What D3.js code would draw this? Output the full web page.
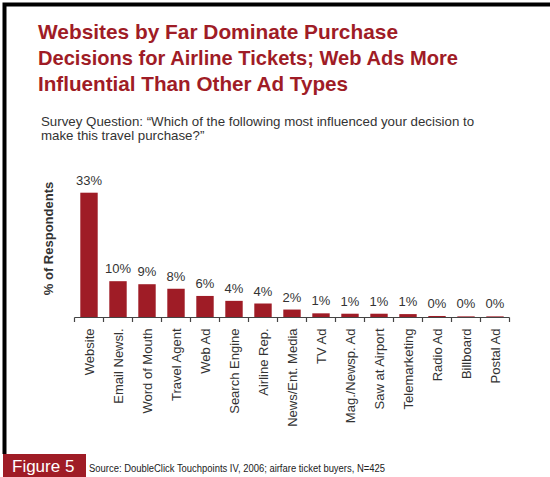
<!DOCTYPE html>
<html>
<head>
<meta charset="utf-8">
<script src="https://cdn.jsdelivr.net/npm/d3@7"></script>
<style>
  html, body { margin: 0; padding: 0; background: #fff; }
  svg { display: block; font-family: Arial, "Liberation Sans", Helvetica, sans-serif; }
</style>
</head>
<body>
<svg id="chart" width="550" height="477"></svg>
<script>
// Survey responses: what most influenced the airline-ticket purchase
const categories = [
  "Website", "Email Newsl.", "Word of Mouth", "Travel Agent", "Web Ad",
  "Search Engine", "Airline Rep.", "News/Ent. Media", "TV Ad", "Mag./Newsp. Ad",
  "Saw at Airport", "Telemarketing", "Radio Ad", "Billboard", "Postal Ad"
];
// Share of respondents (%); labels show the rounded percentage
const shares = [33, 9.6, 8.8, 7.6, 5.7, 4.4, 3.7, 2.1, 1.1, 1.0, 1.0, 0.9, 0.4, 0.3, 0.3];

const titleLines = [
  "Websites by Far Dominate Purchase",
  "Decisions for Airline Tickets; Web Ads More",
  "Influential Than Other Ad Types"
];
const titleWidths = [360, 420, 310];
const questionLines = [
  "Survey Question: \u201cWhich of the following most influenced your decision to",
  "make this travel purchase?\u201d"
];
const yAxisTitle = "% of Respondents";
const figureLabel = "Figure 5";
const sourceNote = "Source: DoubleClick Touchpoints IV, 2006; airfare ticket buyers, N=425";

const RED = "#9f1c26";
const TEXT = "#333";

const svg = d3.select("#chart");

// Frame: black rule along the top and left edges
svg.append("path")
  .attr("d", "M4.5,454 V4.5 H550")
  .attr("fill", "none")
  .attr("stroke", "#000")
  .attr("stroke-width", 4);

// Title
svg.append("g").selectAll("text")
  .data(titleLines)
  .join("text")
  .attr("x", 38)
  .attr("y", (d, i) => 38.5 + i * 26.2)
  .attr("fill", RED)
  .attr("font-size", 20.6)
  .attr("font-weight", "bold")
  .attr("textLength", (d, i) => titleWidths[i])
  .attr("lengthAdjust", "spacingAndGlyphs")
  .text(d => d);

// Survey question
svg.append("g").selectAll("text")
  .data(questionLines)
  .join("text")
  .attr("x", 41)
  .attr("y", (d, i) => 125.5 + i * 14)
  .attr("fill", TEXT)
  .attr("font-size", 13.3)
  .text(d => d);

// Plot area
const baseline = 317.5;
const x = d3.scaleBand()
  .domain(categories)
  .range([74.5, 509.5])
  .paddingInner(0.4)
  .paddingOuter(0.2);
const y = d3.scaleLinear()
  .domain([0, 33])
  .range([baseline, 192.7]);

const data = categories.map((c, i) => ({ cat: c, value: shares[i] }));

svg.append("g").selectAll("rect")
  .data(data)
  .join("rect")
  .attr("x", d => x(d.cat))
  .attr("width", x.bandwidth())
  .attr("y", d => y(d.value))
  .attr("height", d => baseline - y(d.value))
  .attr("fill", RED);

// Value labels
const pct = v => d3.format(".0f")(v) + "%";
svg.append("g").selectAll("text")
  .data(data)
  .join("text")
  .attr("x", d => x(d.cat) + x.bandwidth() / 2)
  .attr("y", d => y(d.value) - 8)
  .attr("text-anchor", "middle")
  .attr("fill", TEXT)
  .attr("font-size", 13)
  .text(d => pct(d.value));

// Category axis: ticks sit on band boundaries
const step = x.step();
const edges = d3.range(categories.length + 1).map(i => 74.5 + i * step);
const axisG = svg.append("g");
axisG.append("line")
  .attr("x1", edges[0]).attr("x2", edges[edges.length - 1])
  .attr("y1", baseline).attr("y2", baseline)
  .attr("stroke", "#444").attr("stroke-width", 1.2);
axisG.selectAll("line.tick")
  .data(edges)
  .join("line")
  .attr("class", "tick")
  .attr("x1", d => d).attr("x2", d => d)
  .attr("y1", baseline).attr("y2", baseline + 4.5)
  .attr("stroke", "#444").attr("stroke-width", 1.2);

axisG.selectAll("text")
  .data(categories)
  .join("text")
  .attr("transform", d => `translate(${x(d) + x.bandwidth() / 2 + 4.5},${baseline + 11}) rotate(-90)`)
  .attr("text-anchor", "end")
  .attr("fill", TEXT)
  .attr("font-size", 13)
  .text(d => d);

// Y axis title
svg.append("text")
  .attr("transform", "translate(53,238.5) rotate(-90)")
  .attr("text-anchor", "middle")
  .attr("fill", TEXT)
  .attr("font-size", 13)
  .attr("font-weight", "bold")
  .text(yAxisTitle);

// Figure tag and source line
svg.append("rect")
  .attr("x", 3).attr("y", 454)
  .attr("width", 83).attr("height", 23)
  .attr("fill", RED);
svg.append("text")
  .attr("x", 12).attr("y", 472)
  .attr("fill", "#fff")
  .attr("font-size", 17)
  .text(figureLabel);
svg.append("text")
  .attr("x", 89).attr("y", 472)
  .attr("fill", "#222")
  .attr("font-size", 10)
  .attr("textLength", 296)
  .attr("lengthAdjust", "spacingAndGlyphs")
  .text(sourceNote);
</script>
</body>
</html>
